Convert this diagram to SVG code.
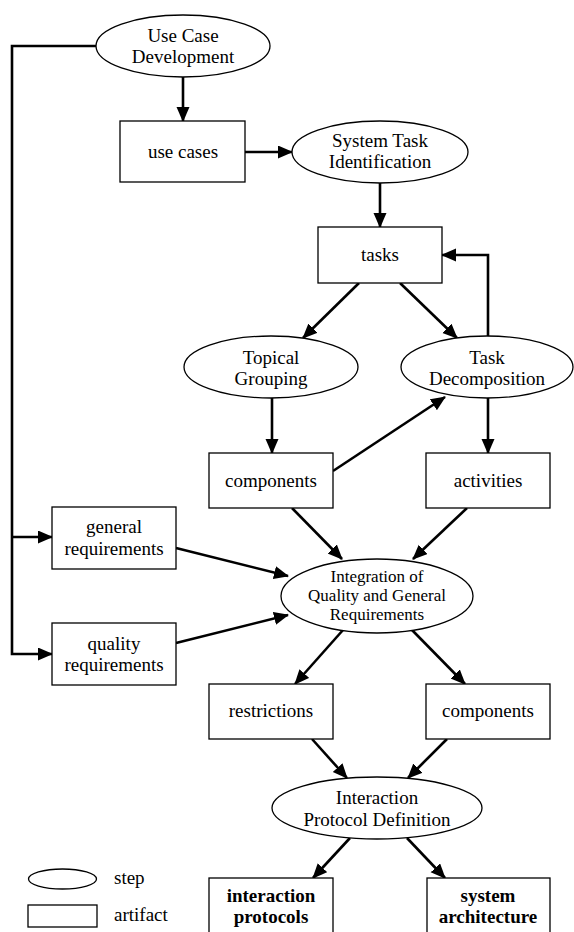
<svg xmlns="http://www.w3.org/2000/svg" width="574" height="932" viewBox="0 0 574 932">
<style>
.shape{fill:#fff;stroke:#000;stroke-width:1.3}
.t{font-family:"Liberation Serif","Times New Roman",serif;font-size:19px;fill:#000;text-anchor:middle}
.s{font-size:17px}
.b{font-weight:bold}
.l{text-anchor:start}
.c{fill:none;stroke:#000;stroke-width:2.6}
</style>
<defs>
<marker id="ah" markerUnits="userSpaceOnUse" markerWidth="16" markerHeight="14" refX="14" refY="6.5" orient="auto">
<path d="M0,0 L15,6.5 L0,13 z" fill="#000"/>
</marker>
</defs>
<rect width="574" height="932" fill="#fff"/>
<g id="connectors">
<line class="c" x1="183" y1="77" x2="183" y2="121" marker-end="url(#ah)"/>
<line class="c" x1="245" y1="152" x2="292" y2="152" marker-end="url(#ah)"/>
<line class="c" x1="380" y1="183" x2="380" y2="227" marker-end="url(#ah)"/>
<line class="c" x1="359" y1="283" x2="303" y2="338" marker-end="url(#ah)"/>
<line class="c" x1="400" y1="283" x2="457" y2="338" marker-end="url(#ah)"/>
<polyline class="c" points="488,336 488,255 442,255" marker-end="url(#ah)"/>
<line class="c" x1="272" y1="398" x2="272" y2="453" marker-end="url(#ah)"/>
<line class="c" x1="488" y1="398" x2="488" y2="453" marker-end="url(#ah)"/>
<line class="c" x1="333" y1="471" x2="445" y2="397" marker-end="url(#ah)"/>
<polyline class="c" points="96,46 12,46 12,654 52,654" marker-end="url(#ah)"/>
<line class="c" x1="12" y1="537" x2="52" y2="537" marker-end="url(#ah)"/>
<line class="c" x1="176" y1="548" x2="288" y2="576" marker-end="url(#ah)"/>
<line class="c" x1="176" y1="643" x2="288" y2="615" marker-end="url(#ah)"/>
<line class="c" x1="292" y1="508" x2="342" y2="559" marker-end="url(#ah)"/>
<line class="c" x1="467" y1="508" x2="413" y2="559" marker-end="url(#ah)"/>
<line class="c" x1="343" y1="630" x2="295" y2="684" marker-end="url(#ah)"/>
<line class="c" x1="412" y1="630" x2="465" y2="684" marker-end="url(#ah)"/>
<line class="c" x1="312" y1="739" x2="347" y2="778" marker-end="url(#ah)"/>
<line class="c" x1="447" y1="739" x2="408" y2="778" marker-end="url(#ah)"/>
<line class="c" x1="350" y1="838" x2="313" y2="878" marker-end="url(#ah)"/>
<line class="c" x1="407" y1="838" x2="445" y2="878" marker-end="url(#ah)"/>
</g>
<g id="use-case-development">
<ellipse class="shape" cx="183" cy="46" rx="87" ry="31"/>
<text class="t" x="183" y="42">Use Case</text>
<text class="t" x="183" y="63">Development</text>
</g>
<g id="use-cases">
<rect class="shape" x="120" y="121" width="125" height="61"/>
<text class="t" x="183" y="158">use cases</text>
</g>
<g id="system-task-identification">
<ellipse class="shape" cx="380" cy="152" rx="88" ry="31"/>
<text class="t" x="380" y="147">System Task</text>
<text class="t" x="380" y="168">Identification</text>
</g>
<g id="tasks">
<rect class="shape" x="318" y="227" width="124" height="56"/>
<text class="t" x="380" y="261">tasks</text>
</g>
<g id="topical-grouping">
<ellipse class="shape" cx="271" cy="367" rx="87" ry="31"/>
<text class="t" x="271" y="364">Topical</text>
<text class="t" x="271" y="385">Grouping</text>
</g>
<g id="task-decomposition">
<ellipse class="shape" cx="487" cy="367" rx="86" ry="31"/>
<text class="t" x="487" y="364">Task</text>
<text class="t" x="487" y="385">Decomposition</text>
</g>
<g id="components">
<rect class="shape" x="209" y="453" width="124" height="55"/>
<text class="t" x="271" y="487">components</text>
</g>
<g id="activities">
<rect class="shape" x="426" y="453" width="124" height="55"/>
<text class="t" x="488" y="487">activities</text>
</g>
<g id="general-requirements">
<rect class="shape" x="52" y="507" width="124" height="62"/>
<text class="t" x="114" y="533">general</text>
<text class="t" x="114" y="555">requirements</text>
</g>
<g id="quality-requirements">
<rect class="shape" x="52" y="623" width="124" height="62"/>
<text class="t" x="114" y="650">quality</text>
<text class="t" x="114" y="671">requirements</text>
</g>
<g id="integration">
<ellipse class="shape" cx="377" cy="596" rx="96" ry="37"/>
<text class="t s" x="377" y="582">Integration of</text>
<text class="t s" x="377" y="601">Quality and General</text>
<text class="t s" x="377" y="620">Requirements</text>
</g>
<g id="restrictions">
<rect class="shape" x="209" y="684" width="124" height="55"/>
<text class="t" x="271" y="717">restrictions</text>
</g>
<g id="components-2">
<rect class="shape" x="426" y="684" width="124" height="55"/>
<text class="t" x="488" y="717">components</text>
</g>
<g id="interaction-protocol-definition">
<ellipse class="shape" cx="377" cy="808" rx="105" ry="31"/>
<text class="t" x="377" y="804">Interaction</text>
<text class="t" x="377" y="826">Protocol Definition</text>
</g>
<g id="interaction-protocols">
<rect class="shape" x="209" y="878" width="124" height="62"/>
<text class="t b" x="271" y="902">interaction</text>
<text class="t b" x="271" y="923">protocols</text>
</g>
<g id="system-architecture">
<rect class="shape" x="427" y="878" width="123" height="62"/>
<text class="t b" x="488" y="902">system</text>
<text class="t b" x="488" y="923">architecture</text>
</g>
<g id="legend">
<ellipse class="shape" cx="62.5" cy="879" rx="34" ry="10"/>
<text class="t l" x="114" y="884">step</text>
<rect class="shape" x="28" y="905" width="69" height="22"/>
<text class="t l" x="114" y="921">artifact</text>
</g>
</svg>
